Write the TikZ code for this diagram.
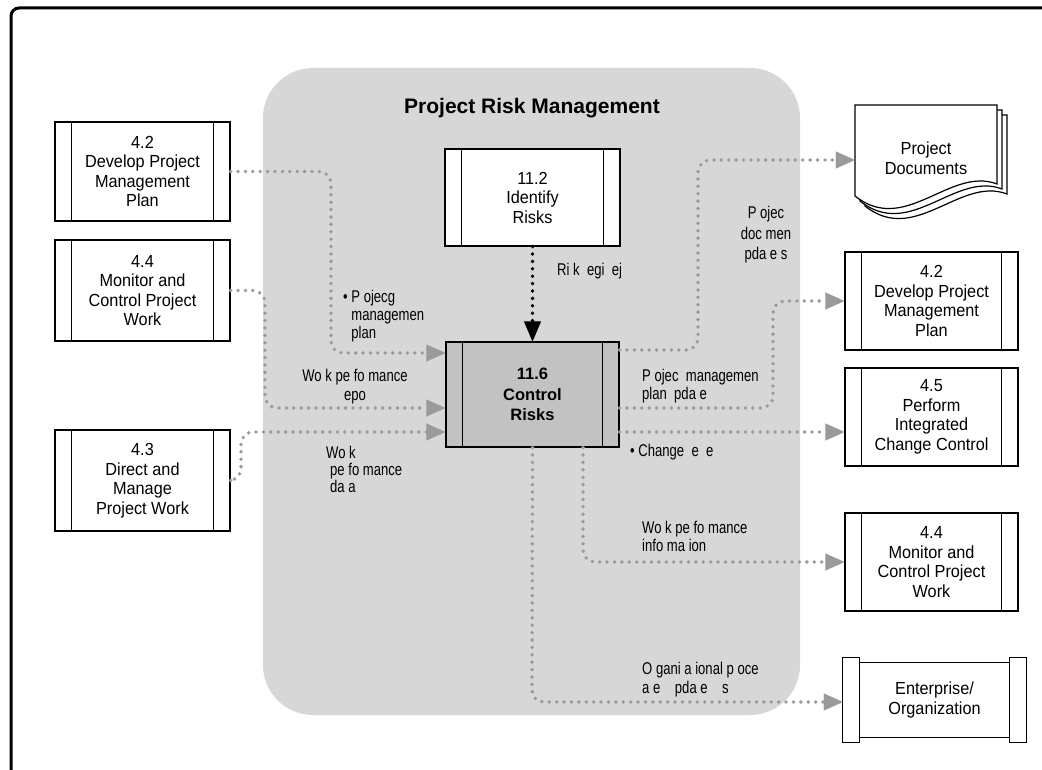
\documentclass[tikz,border=0pt]{standalone}
\usepackage{fontspec}
\setmainfont{Liberation Sans}
\newfontfamily\boxfont[FakeStretch=0.93]{Liberation Sans}
\newfontfamily\lblfont[FakeStretch=0.77]{Liberation Sans}
\usetikzlibrary{arrows.meta}
\definecolor{region}{HTML}{D7D7D7}
\definecolor{ctrl}{HTML}{C2C2C2}
\definecolor{dotg}{HTML}{9A9A9A}
\tikzset{
  procbox/.style={draw=black, line width=1.2pt, fill=white, inner sep=0pt,
    minimum width=175pt, minimum height=99pt, align=center,
    font=\boxfont\fontsize{17.5}{19.5}\selectfont,
    path picture={\draw[line width=1.2pt]
      ([xshift=16.5pt]path picture bounding box.north west) -- ([xshift=16.5pt]path picture bounding box.south west)
      ([xshift=-16.5pt]path picture bounding box.north east) -- ([xshift=-16.5pt]path picture bounding box.south east);}},
  conn/.style={draw=dotg, line width=3.8pt, line cap=round, dash pattern=on 0pt off 7.4pt,
    rounded corners=12pt, -{Triangle[length=19pt,width=17pt,line width=0.01pt,fill=dotg,color=dotg]}},
  blackconn/.style={draw=black, line width=3.8pt, line cap=round, dash pattern=on 0pt off 7.4pt,
    -{Triangle[length=20pt,width=17pt,line width=0.01pt,fill=black]}},
  lbl/.style={inner sep=0pt, font=\lblfont\fontsize{17}{18}\selectfont},
}
\begin{document}
\begin{tikzpicture}[x=1pt,y=-1pt]
\useasboundingbox (0,0) rectangle (1042,770);
\clip (0,0) rectangle (1042,770);
\fill[white] (0,0) rectangle (1042,770);
% outer frame
\draw[line width=3pt, rounded corners=8pt] (11,8) rectangle (1090,800);
% process group region
\fill[region, rounded corners=50pt] (263,68) rectangle (800,715);
\node[font=\bfseries\fontsize{21}{24}\selectfont] (title) at (532,108) {Project Risk Management};

% left boxes
\node[procbox, minimum height=99pt] (L42) at (142.5,171.5) {4.2\\Develop Project\\Management\\Plan};
\node[procbox, minimum height=101pt] (L44) at (142.5,290.5) {4.4\\Monitor and\\Control Project\\Work};
\node[procbox, minimum height=101pt] (L43) at (142.5,480.5) {4.3\\Direct and\\Manage\\Project Work};

% centre boxes
\node[procbox, minimum height=97pt] (ID) at (532.5,197.5) {11.2\\Identify\\Risks};
\node[procbox, fill=ctrl, minimum width=173pt, minimum height=105pt,
      font=\bfseries\fontsize{16.5}{20.5}\selectfont] (CR) at (532.5,394.5) {11.6\\Control\\Risks};

% right boxes
\node[procbox, minimum width=173pt, minimum height=98pt] (R42) at (931.5,301) {4.2\\Develop Project\\Management\\Plan};
\node[procbox, minimum width=173pt, minimum height=98pt] (R45) at (931.5,417) {4.5\\Perform\\Integrated\\Change Control};
\node[procbox, minimum width=173pt, minimum height=98pt] (R44) at (931.5,562) {4.4\\Monitor and\\Control Project\\Work};

% project documents
\foreach \o in {10,5,0}{
  \draw[line width=1.2pt, fill=white, shift={(\o,\o)}]
    (855,105) -- (997,105) -- (997,184) .. controls (950,166) and (905,236) .. (855,196) -- cycle;
}
\node[inner sep=0pt, minimum width=142pt, align=center, font=\boxfont\fontsize{17.5}{19.5}\selectfont] (PD) at (926,158) {Project\\Documents};

% enterprise / organization
\node[inner sep=0pt, minimum width=183pt, minimum height=84pt, align=center,
      font=\boxfont\fontsize{17.5}{19.5}\selectfont] (ENT) at (934.5,700) {Enterprise/\\Organization};
\draw[line width=1.2pt] ([xshift=17pt,yshift=-5pt]ENT.north west) rectangle ([xshift=-17pt,yshift=5pt]ENT.south east);
\draw[line width=1.2pt, fill=white] (ENT.north west) rectangle ([xshift=17pt]ENT.south west);
\draw[line width=1.2pt, fill=white] ([xshift=-17pt]ENT.north east) rectangle (ENT.south east);

% connectors
\draw[conn] (L42.east) -- (331,171.5) -- (331,353) -- (CR.west |- 0,353);
\draw[conn] (L44.east) -- (265,290.5) -- (265,408) -- (CR.west |- 0,408);
\draw[conn] (L43.east) -- (241,480.5) -- (241,432) -- (CR.west |- 0,432);
\draw[blackconn] (ID.south) -- (CR.north);
\draw[conn] (CR.east |- 0,350) -- (698,350) -- (698,160) -- (PD.west |- 0,160);
\draw[conn] (CR.east |- 0,408) -- (773,408) -- (773,301) -- (R42.west);
\draw[conn] (CR.east |- 0,432) -- (R45.west |- 0,432);
\draw[conn] (CR.south -| 583,0) -- (583,562) -- (R44.west);
\draw[conn] (CR.south) -- (532,702) -- (ENT.west |- 0,702);

% labels (base anchor = baseline of the last line)
\node[lbl, anchor=base west, align=left] (t1) at (343,338) {• P ojecg\\\phantom{• }managemen\\\phantom{• }plan};
\node[lbl, anchor=base, align=center, font=\lblfont\fontsize{17}{19}\selectfont] (t2) at (355,400) {Wo k pe fo mance\\ epo};
\node[lbl, anchor=base west, align=left, font=\lblfont\fontsize{17}{17}\selectfont] (t3) at (326,492) {Wo k\\\hspace{4pt}pe fo mance\\\hspace{4pt}da a};
\node[lbl, anchor=base west] (t4) at (557,276) {Ri k~ egi~ ej};
\node[lbl, anchor=base, align=center, font=\lblfont\fontsize{17}{20.5}\selectfont] (t5) at (766,260) {P ojec\\doc men\\pda e s};
\node[lbl, anchor=base west, align=left] (t6) at (642,399) {P ojec~ managemen\\plan~ pda e};
\node[lbl, anchor=base west] (t7) at (630,456) {• Change~ e~ e};
\node[lbl, anchor=base west, align=left] (t8) at (642,551) {Wo k pe fo mance\\info ma ion};
\node[lbl, anchor=base west, align=left, font=\lblfont\fontsize{17}{19}\selectfont] (t9) at (642,693) {O gani a ional p oce\\a e~ ~ pda e~ ~ s};
\end{tikzpicture}
\end{document}
